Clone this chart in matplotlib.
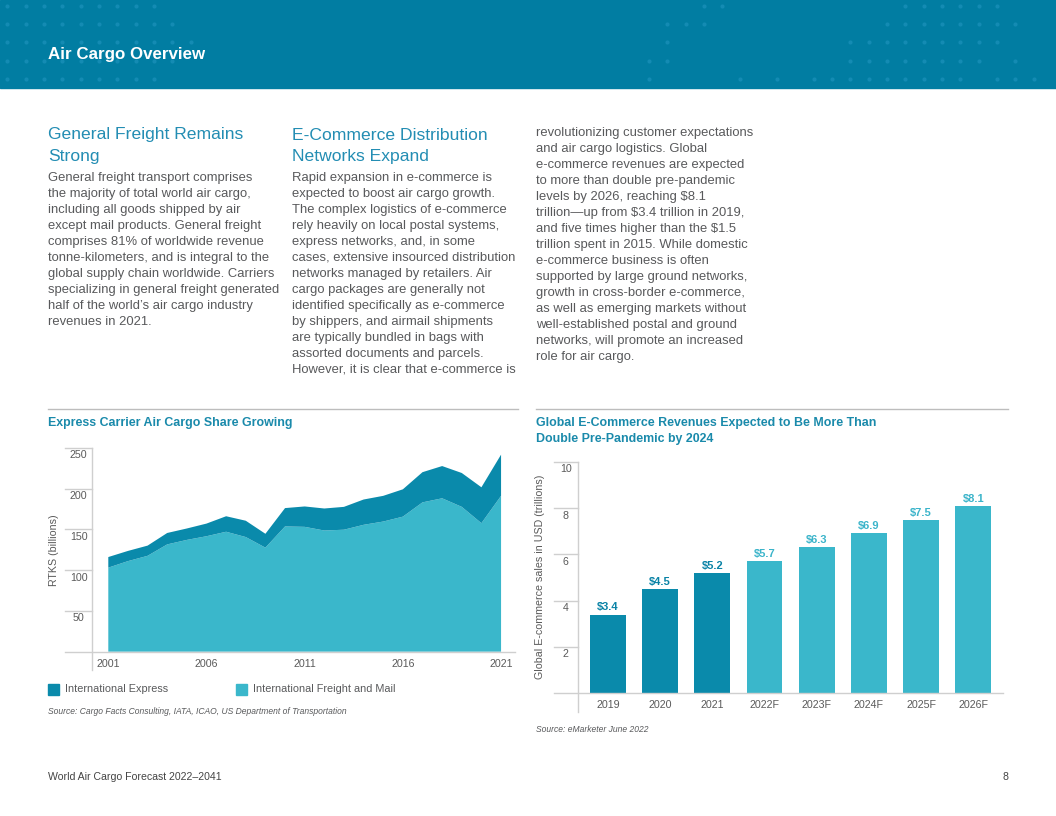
import matplotlib
matplotlib.use("Agg")
import matplotlib.pyplot as plt
import matplotlib.transforms as mtransforms
from matplotlib.patches import Rectangle


W, H = 1056, 816  # page size in pixels

# colours picked off the page
band = "#017da2"
dot_col = "#148bb3"
teal_dark = "#0a8aab"
teal_light = "#3ab7cb"
heading_col = "#238db3"
title_col = "#1a8aab"
body_col = "#58595b"
tick_col = "#5a5a5a"
line_col = "#cfcfcf"

# chart 1: express carrier share, RTKs in billions
years = list(range(2001, 2022))
freight_mail = [103, 111, 117.5, 131.5, 137, 141.5, 147, 140.5, 127.5, 153.5, 153,
                148.5, 149.5, 155.5, 159.5, 165.5, 183, 188, 177.5, 157.5, 191]
express = [13, 12.5, 12.5, 14, 14, 15.5, 19, 20, 17, 22.5, 25,
           27, 28, 31, 31.5, 33.5, 37, 39.5, 41.5, 44, 50.5]
area_xticks = [2001, 2006, 2011, 2016, 2021]
area_yticks = [50, 100, 150, 200, 250]

# chart 2: global e-commerce revenues, USD trillions
ec_years = ["2019", "2020", "2021", "2022F", "2023F", "2024F", "2025F", "2026F"]
ec_sales = [3.4, 4.5, 5.2, 5.7, 6.3, 6.9, 7.5, 8.1]
bar_yticks = [2, 4, 6, 8, 10]

# page text
col1_head = ["General Freight Remains", "Strong"]
col1_body = [
    "General freight transport comprises",
    "the majority of total world air cargo,",
    "including all goods shipped by air",
    "except mail products. General freight",
    "comprises 81% of worldwide revenue",
    "tonne-kilometers, and is integral to the",
    "global supply chain worldwide. Carriers",
    "specializing in general freight generated",
    "half of the world\u2019s air cargo industry",
    "revenues in 2021.",
]
col2_head = ["E-Commerce Distribution", "Networks Expand"]
col2_body = [
    "Rapid expansion in e-commerce is",
    "expected to boost air cargo growth.",
    "The complex logistics of e-commerce",
    "rely heavily on local postal systems,",
    "express networks, and, in some",
    "cases, extensive insourced distribution",
    "networks managed by retailers. Air",
    "cargo packages are generally not",
    "identified specifically as e-commerce",
    "by shippers, and airmail shipments",
    "are typically bundled in bags with",
    "assorted documents and parcels.",
    "However, it is clear that e-commerce is",
]
col3_body = [
    "revolutionizing customer expectations",
    "and air cargo logistics. Global",
    "e-commerce revenues are expected",
    "to more than double pre-pandemic",
    "levels by 2026, reaching $8.1",
    "trillion\u2014up from $3.4 trillion in 2019,",
    "and five times higher than the $1.5",
    "trillion spent in 2015. While domestic",
    "e-commerce business is often",
    "supported by large ground networks,",
    "growth in cross-border e-commerce,",
    "as well as emerging markets without",
    "well-established postal and ground",
    "networks, will promote an increased",
    "role for air cargo.",
]

# header dot pattern: row -> grid columns (grid step 18.33 px)
header_dots = {
    0: list(range(0, 9)) + [38, 39] + list(range(49, 55)),
    1: list(range(0, 10)) + [36, 37, 38] + list(range(48, 56)),
    2: list(range(0, 11)) + [36] + list(range(46, 55)),
    3: list(range(0, 10)) + [35, 36] + list(range(46, 54)) + [55],
    4: list(range(0, 9)) + [35, 40, 42] + list(range(44, 53)) + [54, 55, 56],
}


def fx(x):
    return x / W


def fy(y):
    return 1 - y / H


plt.rcParams["font.family"] = ["Liberation Sans", "DejaVu Sans"]

fig = plt.figure(figsize=(W / 100, H / 100), dpi=100)

# header band with its dots
fig.patches.append(Rectangle((0, fy(88)), 1, 88 / H, transform=fig.transFigure,
                             color=band, zorder=0))
deco = fig.add_axes([0, fy(88), 1, 88 / H], zorder=1)
deco.set_xlim(0, W)
deco.set_ylim(88, 0)
deco.axis("off")
for row, cols in header_dots.items():
    deco.scatter([7.3 + 18.33 * c for c in cols], [6 + 18.2 * row] * len(cols),
                 s=9, color=dot_col, linewidths=0)
fig.text(fx(48), fy(54), "Air Cargo Overview", fontsize=12.2, fontweight="bold",
         color="white", va="center", zorder=3)


# text columns
def put_lines(x, y0, step, lines, **kw):
    for i, s in enumerate(lines):
        fig.text(fx(x), fy(y0 + i * step), s, va="center", **kw)


put_lines(48, 135, 21, col1_head, fontsize=12.6, color=heading_col)
put_lines(48, 178, 16, col1_body, fontsize=9.35, color=body_col)
put_lines(292, 135, 21, col2_head, fontsize=12.6, color=heading_col)
put_lines(292, 178, 16, col2_body, fontsize=9.35, color=body_col)
put_lines(536, 133, 16, col3_body, fontsize=9.35, color=body_col)

# separators above the charts
fig.lines.append(plt.Line2D([fx(48), fx(518)], [fy(409), fy(409)], color="#bdbdbd",
                            lw=1, transform=fig.transFigure))
fig.lines.append(plt.Line2D([fx(536), fx(1008)], [fy(409), fy(409)], color="#bdbdbd",
                            lw=1, transform=fig.transFigure))

fig.text(fx(48), fy(423), "Express Carrier Air Cargo Share Growing", fontsize=8.9,
         fontweight="bold", color=title_col, va="center")
fig.text(fx(536), fy(423), "Global E-Commerce Revenues Expected to Be More Than",
         fontsize=8.9, fontweight="bold", color=title_col, va="center")
fig.text(fx(536), fy(439), "Double Pre-Pandemic by 2024",
         fontsize=8.9, fontweight="bold", color=title_col, va="center")


def frame(ax, ticks, tick_start, drop):
    # left spine running below the baseline, short tick bars with labels under them
    for s in ax.spines.values():
        s.set_visible(False)
    ax.plot([0, 0], [drop, 1], transform=ax.transAxes, color=line_col, lw=1,
            clip_on=False)
    tr = mtransforms.blended_transform_factory(ax.transAxes, ax.transData)
    ax.plot([tick_start, 1], [0, 0], transform=tr, color=line_col, lw=1, clip_on=False)
    lab_tr = mtransforms.offset_copy(tr, fig=fig, y=-7.5, units="dots")
    for t in ticks:
        ax.plot([tick_start, 0], [t, t], transform=tr, color=line_col, lw=1,
                clip_on=False)
        ax.text(tick_start / 2, t, str(t), transform=lab_tr, ha="center", va="center",
                fontsize=7.7, color=tick_col)
    ax.set_yticks([])
    ax.tick_params(axis="x", length=0, pad=5, labelsize=7.7, labelcolor=tick_col)


# left chart: stacked area
ax1 = fig.add_axes([fx(92.3), fy(651.7), (515 - 92.3) / W, (651.7 - 447.7) / H])
ax1.stackplot(years, freight_mail, express, colors=[teal_light, teal_dark],
              linewidth=0)
ax1.set_xlim(2000.185, 2021.71)
ax1.set_ylim(0, 250)
ax1.set_xticks(area_xticks)
frame(ax1, area_yticks, -27.3 / 422.7, -18.3 / 204)
fig.text(fx(54), fy(550), "RTKS (billions)", rotation=90, fontsize=7.7,
         color=tick_col, ha="center", va="center")

# legend
for lx, col, name in [(48, teal_dark, "International Express"),
                      (236, teal_light, "International Freight and Mail")]:
    fig.patches.append(Rectangle((fx(lx), fy(694.5)), 10.5 / W, 10.5 / H,
                                 transform=fig.transFigure, color=col))
    fig.text(fx(lx + 17), fy(689.5), name, fontsize=7.8, color=body_col, va="center")

fig.text(fx(48), fy(712), "Source: Cargo Facts Consulting, IATA, ICAO, US Department of Transportation",
         fontsize=6.15, style="italic", color=body_col, va="center")

# right chart: bars
ax2 = fig.add_axes([fx(577.7), fy(693.3), (1003 - 577.7) / W, (693.3 - 461.7) / H])
pos = list(range(len(ec_years)))
bar_cols = [teal_light if y.endswith("F") else teal_dark for y in ec_years]
lab_cols = ["#3bb4ca" if y.endswith("F") else "#0a83a6" for y in ec_years]
ax2.bar(pos, ec_sales, width=0.686, color=bar_cols)
for p, v, c in zip(pos, ec_sales, lab_cols):
    ax2.annotate(f"${v}", (p, v), xytext=(0, 1.5), textcoords="offset points",
                 ha="center", va="bottom", fontsize=8, fontweight="bold", color=c)
ax2.set_xlim(-0.58, 7.57)
ax2.set_ylim(0, 10)
ax2.set_xticks(pos, ec_years)
frame(ax2, bar_yticks, -23.7 / 425.3, -18.4 / 231.6)
fig.text(fx(540), fy(577), "Global E-commerce sales in USD (trillions)", rotation=90,
         fontsize=7.7, color=tick_col, ha="center", va="center")
fig.text(fx(536), fy(729), "Source: eMarketer June 2022", fontsize=6.15,
         style="italic", color=body_col, va="center")

# footer
fig.text(fx(48), fy(777), "World Air Cargo Forecast 2022\u20132041", fontsize=7.6,
         color="#444444", va="center")
fig.text(fx(1008), fy(777), "8", fontsize=7.6, color="#444444", va="center", ha="right")

fig.savefig("out.png", dpi=100)
